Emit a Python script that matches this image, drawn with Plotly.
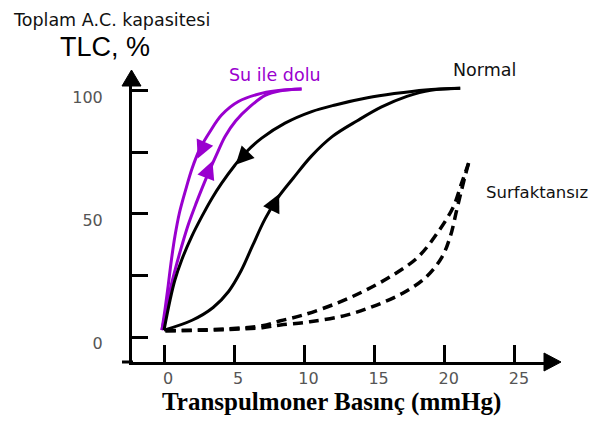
import plotly.graph_objects as go

# ---------------- data ----------------
x_ticks = [0, 5, 10, 15, 20, 25]
y_ticks = [0, 25, 50, 75, 100]
y_tick_text = ["0", "", "50", "", "100"]

# water-filled lung ("Su ile dolu") - deflation (outer) and inflation (inner)
su_defl_x = [9.8, 8.5, 7.0, 5.3, 4.1, 3.28, 2.56, 2.0, 1.55, 1.1, 0.78, 0.52, 0.3, 0.08, -0.15]
su_defl_y = [100.8, 100.4, 99.1, 95.7, 90.2, 83.5, 76.5, 68.5, 60.0, 50.5, 41.0, 31.0, 21.0, 11.5, 2.8]
su_infl_x = [-0.15, 0.15, 0.45, 0.8, 1.25, 1.75, 2.3, 2.75, 3.25, 3.75, 4.35, 5.1, 6.1, 7.2, 8.3, 9.8]
su_infl_y = [2.8, 11.0, 19.5, 27.5, 36.7, 46.0, 54.5, 61.0, 67.8, 74.2, 81.5, 87.8, 93.5, 98.2, 100.1, 100.8]

# normal lung - deflation (upper) and inflation (lower)
nor_defl_x = [0.0, 0.43, 0.78, 1.26, 1.97, 2.7, 3.4, 4.11, 5.06, 5.77, 6.96, 8.62, 10.52, 12.2, 14.5, 16.4, 18.6, 21.1]
nor_defl_y = [2.8, 15.0, 23.2, 31.3, 40.8, 49.0, 56.2, 62.5, 69.9, 74.7, 80.8, 86.9, 91.6, 94.3, 97.2, 98.9, 100.4, 101.1]
nor_infl_x = [0.0, 2.0, 3.5, 4.6, 5.5, 6.3, 7.2, 8.1, 9.2, 10.5, 12.0, 13.8, 15.5, 17.3, 19.0, 21.1]
nor_infl_y = [2.8, 6.8, 12.0, 18.5, 27.0, 37.0, 48.0, 56.5, 64.5, 73.5, 81.5, 88.0, 93.5, 97.8, 100.3, 101.1]

# surfactant-free lung ("Surfaktansız") - dashed
sf_up_x = [0.1, 4.5, 7.0, 8.3, 9.9, 12.3, 14.4, 16.4, 18.1, 19.5, 20.6, 21.2, 21.7]
sf_up_y = [2.5, 3.3, 4.6, 6.6, 8.9, 13.7, 19.1, 25.5, 32.5, 42.5, 52.8, 62.5, 70.7]
sf_lo_x = [0.1, 4.5, 7.0, 8.3, 10.4, 13.0, 15.15, 17.0, 18.6, 19.8, 20.4, 20.85, 21.2, 21.5, 21.7]
sf_lo_y = [2.5, 3.0, 3.8, 4.9, 6.2, 8.9, 13.0, 17.8, 24.0, 32.5, 41.0, 51.6, 59.8, 66.5, 70.7]

# direction arrows: (tail x, tail y, tip x, tip y)
arr_su_defl = (2.9, 79.0, 2.4, 72.5)
arr_su_infl = (3.0, 65.0, 3.45, 71.5)
arr_nor_defl = (5.9, 74.7, 5.1, 70.0)
arr_nor_infl = (7.6, 51.0, 8.2, 58.1)

PURPLE = "#9a00cf"
BLACK = "#000000"

# layout geometry (pixels, in window coordinates; page body has an 8px margin)
OFF = 8
W, H = 596, 421
L, R, T, B = 132 - OFF, 545 - OFF, 85 - OFF, 362 - OFF


def pxx(v):
    return (v - OFF - L) / (R - L)


def pxy(v):
    return (B - (v - OFF)) / (B - T)


fig = go.Figure()


def curve(xs, ys, color, dash="solid", width=3):
    fig.add_trace(go.Scatter(x=xs, y=ys, mode="lines",
                             line=dict(color=color, width=width, dash=dash, shape="spline", smoothing=1.0),
                             cliponaxis=False, showlegend=False, hoverinfo="skip"))


curve(su_defl_x, su_defl_y, PURPLE)
curve(su_infl_x, su_infl_y, PURPLE)
curve(nor_defl_x, nor_defl_y, BLACK)
curve(nor_infl_x, nor_infl_y, BLACK)
curve(sf_up_x, sf_up_y, BLACK, dash="10px,6px", width=3.5)
curve(sf_lo_x, sf_lo_y, BLACK, dash="10px,6px", width=3.5)

tick_font = dict(family="DejaVu Sans, Verdana, sans-serif", size=16, color="#555555")

fig.update_xaxes(range=[-2.28, 27.14], tickmode="array", tickvals=x_ticks,
                 ticks="inside", ticklen=17, tickwidth=3, tickcolor=BLACK,
                 showline=True, linewidth=3, linecolor=BLACK, showgrid=False, zeroline=False,
                 tickfont=tick_font, ticklabelshift=4, ticklabelstandoff=0, automargin=False)
fig.update_yaxes(range=[-10.16, 102.4], tickmode="array", tickvals=y_ticks, ticktext=y_tick_text,
                 ticks="inside", ticklen=16, tickwidth=3, tickcolor=BLACK,
                 showline=True, linewidth=3, linecolor=BLACK, showgrid=False, zeroline=False,
                 tickfont=tick_font, ticklabelshift=6, ticklabelstandoff=23, automargin=False)

shapes = [
    # x-axis small overhang to the left of the y axis
    dict(type="line", xref="paper", yref="paper", x0=pxx(122), x1=pxx(133), y0=pxy(362), y1=pxy(362),
         line=dict(color=BLACK, width=3)),
    # y-axis arrowhead
    dict(type="path", xref="paper", yref="paper",
         path=f"M {pxx(122)},{pxy(86)} L {pxx(141)},{pxy(86)} L {pxx(131.5)},{pxy(70)} Z",
         fillcolor=BLACK, line=dict(color=BLACK, width=1)),
    # x-axis arrowhead
    dict(type="path", xref="paper", yref="paper",
         path=f"M {pxx(544)},{pxy(353)} L {pxx(544)},{pxy(371)} L {pxx(561)},{pxy(362)} Z",
         fillcolor=BLACK, line=dict(color=BLACK, width=1)),
]

label_font = "DejaVu Sans, Verdana, sans-serif"
annotations = [
    dict(text="Toplam A.C. kapasitesi", x=pxx(11), y=pxy(8), xanchor="left", yanchor="top",
         font=dict(family=label_font, size=17.5, color="#111111")),
    dict(text="TLC, %", x=pxx(58), y=pxy(47), xanchor="left", yanchor="middle",
         font=dict(family="Liberation Sans, Arial, sans-serif", size=27, color=BLACK)),
    dict(text="Su ile dolu", x=pxx(227), y=pxy(75), xanchor="left", yanchor="middle",
         font=dict(family=label_font, size=17.5, color=PURPLE)),
    dict(text="Normal", x=pxx(451), y=pxy(70), xanchor="left", yanchor="middle",
         font=dict(family=label_font, size=17.5, color="#111111")),
    dict(text="Surfaktansız", x=pxx(484), y=pxy(192), xanchor="left", yanchor="middle",
         font=dict(family=label_font, size=16.5, color="#111111")),
    dict(text="<b>Transpulmoner Basınç (mmHg)</b>", x=pxx(331), y=pxy(402), xanchor="center", yanchor="middle",
         font=dict(family="Liberation Serif, Times New Roman, serif", size=25, color=BLACK)),
]
for a in annotations:
    a.update(xref="paper", yref="paper", showarrow=False)


def arrow_ann(a, color):
    return dict(x=a[2], y=a[3], ax=a[0], ay=a[1], xref="x", yref="y", axref="x", ayref="y",
                text="", showarrow=True, arrowhead=2, arrowsize=1.2, arrowwidth=3, arrowcolor=color)


annotations += [arrow_ann(arr_su_defl, PURPLE), arrow_ann(arr_su_infl, PURPLE),
                arrow_ann(arr_nor_defl, BLACK), arrow_ann(arr_nor_infl, BLACK)]

fig.update_layout(width=W, height=H, margin=dict(l=L, r=W - R, t=T, b=H - B, autoexpand=False),
                  paper_bgcolor="white", plot_bgcolor="white",
                  shapes=shapes, annotations=annotations, showlegend=False)

fig.write_html("out.html")
